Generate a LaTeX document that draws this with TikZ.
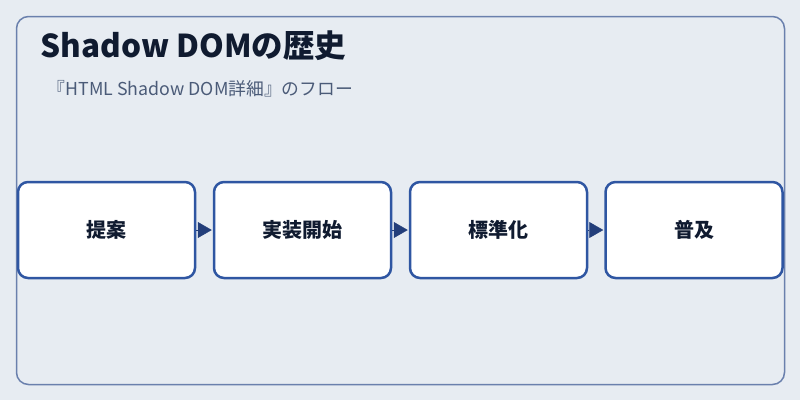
\documentclass[tikz,border=0pt]{standalone}
\usepackage{fontspec}
\setmainfont{Noto Sans CJK JP}
\usetikzlibrary{arrows.meta}
\definecolor{bg}{HTML}{E7ECF2}
\definecolor{frame}{HTML}{6A80AD}
\definecolor{boxline}{HTML}{2F56A2}
\definecolor{titlec}{HTML}{101B30}
\definecolor{subc}{HTML}{4B5B78}
\definecolor{arrowc}{HTML}{233E7A}
\tikzset{
  stepbox/.style={draw=boxline, line width=2.5pt, fill=white, rounded corners=10pt,
    minimum width=177pt, minimum height=96pt, inner sep=0pt,
    font=\fontsize{20pt}{24pt}\selectfont\bfseries, text=titlec},
  flow/.style={draw=arrowc, line width=0.5pt, -{Triangle[length=14pt,width=16pt]}, fill=arrowc, shorten >=1pt},
}
\begin{document}
\begin{tikzpicture}[x=1pt,y=-1pt]
\useasboundingbox (0,0) rectangle (800,400);
\fill[bg] (0,0) rectangle (800,400);
\draw[frame, line width=1.5pt, rounded corners=12pt] (16.5,16.5) rectangle (784.5,384.5);
\node[anchor=base west, font=\fontsize{31.5pt}{36pt}\selectfont\bfseries, text=titlec, inner sep=0pt] (title) at (40.5,57) {Shadow DOMの歴史};
\node[anchor=base west, font=\fontsize{17.8pt}{21pt}\selectfont, text=subc, inner sep=0pt] (sub) at (47.5,95) {『HTML Shadow DOM詳細』のフロー};
\node[stepbox] (s1) at (106.5,230) {提案};
\node[stepbox] (s2) at (302.5,230) {実装開始};
\node[stepbox] (s3) at (498.5,230) {標準化};
\node[stepbox] (s4) at (694,230) {普及};
\draw[flow] (s1.east) -- (s2.west);
\draw[flow] (s2.east) -- (s3.west);
\draw[flow] (s3.east) -- (s4.west);
\end{tikzpicture}
\end{document}
